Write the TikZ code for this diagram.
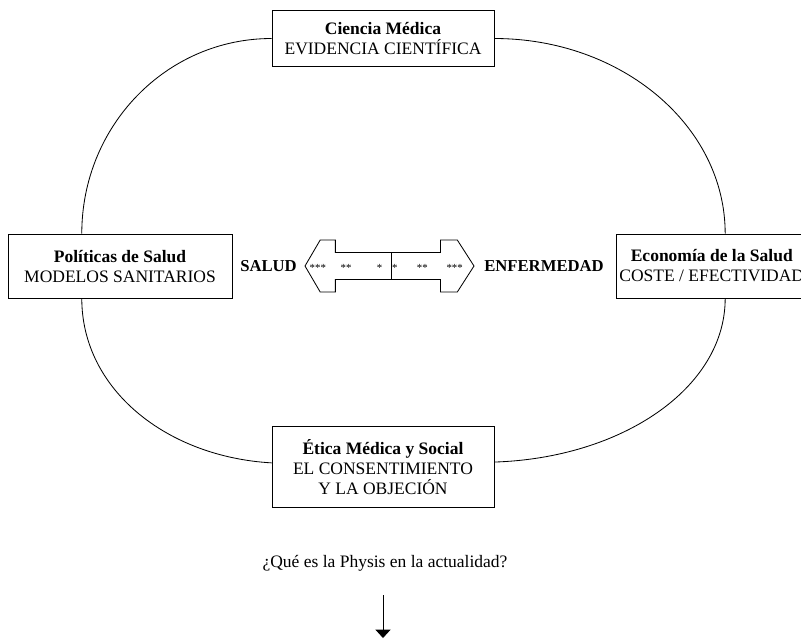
\documentclass[tikz,border=0pt]{standalone}
\usepackage{fontspec}
\setmainfont{Liberation Serif}
\usetikzlibrary{arrows.meta,calc}
\begin{document}
\begin{tikzpicture}[x=0.6pt,y=-0.6pt,
  caja/.style={draw,line width=0.5pt,align=center,minimum width=133.2pt,inner sep=0pt,font=\fontsize{10.5}{12}\selectfont},
  lazo/.style={line width=0.5pt},
  polo/.style={font=\fontsize{10}{12}\selectfont\bfseries},
  grado/.style={font=\fontsize{6.5}{6.5}\selectfont,inner sep=0pt}]
\useasboundingbox (0,0) rectangle (801,641);
\node[caja,minimum height=34pt] (ciencia) at (383,38.5) {\textbf{Ciencia Médica}\\EVIDENCIA CIENTÍFICA};
\node[caja,minimum width=134.4pt,minimum height=38.4pt] (politicas) at (120,266) {\textbf{Políticas de Salud}\\MODELOS SANITARIOS};
\node[caja,minimum width=0pt,inner xsep=1.8pt,minimum height=38.4pt,anchor=west] (economia) at (616,266) {\textbf{Economía de la Salud}\\COSTE / EFECTIVIDAD};
\node[caja,minimum height=49pt] (etica) at (383,467) {\textbf{Ética Médica y Social}\\EL CONSENTIMIENTO\\Y LA OBJECIÓN};
\node[polo] (salud) at (268.5,266) {SALUD};
\node[polo] (enfermedad) at (544,266) {ENFERMEDAD};
\draw[lazo] (305,266) -- (320.2,240) -- (335.4,240) -- (335.4,252.5) -- (440.5,252.5) -- (440.5,240) -- (457.3,240)
  -- (474,266) -- (457.3,292) -- (440.5,292) -- (440.5,279.5) -- (335.4,279.5) -- (335.4,292) -- (320.2,292) -- cycle;
\draw[lazo] (391.8,252.5) -- (391.8,279.5);
\foreach \x/\s in {317.8/***,346.1/**,379.5/*,394.9/*,422.3/**,454.7/***}
  \node[grado] at (\x,268) {\s};
\coordinate (pn) at ($(politicas.north west)!0.33!(politicas.north east)$);
\coordinate (ps) at ($(politicas.south west)!0.33!(politicas.south east)$);
\coordinate (en) at ($(economia.north west)!0.57!(economia.north east)$);
\coordinate (es) at ($(economia.south west)!0.57!(economia.south east)$);
\coordinate (ew) at ($(etica.north west)!0.45!(etica.south west)$);
\coordinate (ee) at ($(etica.north east)!0.44!(etica.south east)$);
\draw[lazo] (ciencia.west) .. controls +(-105,0) and +(0,-108) .. (pn);
\draw[lazo] (ciencia.east) .. controls +(127,0) and +(0,-108) .. (en);
\draw[lazo] (ps) .. controls +(0,91) and +(-105,-6) .. (ew);
\draw[lazo] (es) .. controls +(0,90) and +(127,-4) .. (ee);
\node[font=\fontsize{10.5}{12}\selectfont] (pregunta) at (385,563) {¿Qué es la Physis en la actualidad?};
\coordinate (inicio) at (383,595);
\coordinate (fin) at (383,638);
\draw[lazo,-{Triangle[width=9pt,length=5pt]}] (inicio) -- (fin);
\end{tikzpicture}
\end{document}
